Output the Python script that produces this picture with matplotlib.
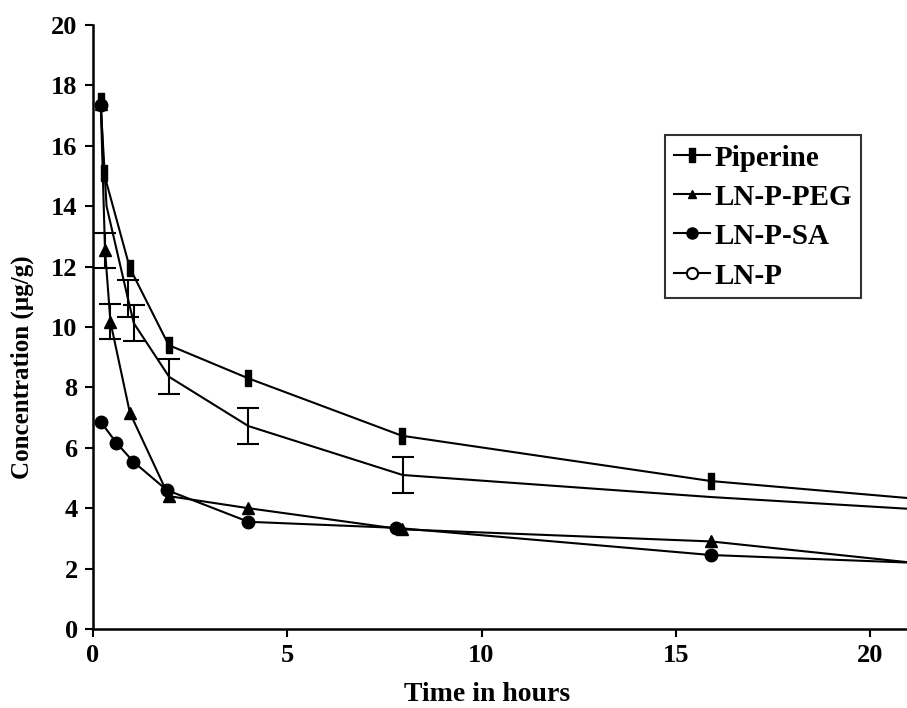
import matplotlib
matplotlib.use("Agg")
import matplotlib.pyplot as plt
from matplotlib.lines import Line2D
import numpy as np

plt.rcParams['font.family'] = ['Liberation Serif', 'DejaVu Serif']
plt.rcParams['font.weight'] = 'bold'

# Piperine (free drug)
pip_t = [0.2, 0.28, 0.95, 1.95, 4.0, 7.95, 15.9, 24]
pip_c = [17.5, 15.1, 11.95, 9.4, 8.3, 6.4, 4.9, 4.0]

# LN-P-PEG
peg_t = [0.2, 0.31, 0.45, 0.95, 1.95, 4.0, 7.95, 15.9, 24]
peg_c = [17.4, 12.55, 10.17, 7.16, 4.4, 4.0, 3.3, 2.9, 1.8]
peg_err = [0, 0.58, 0.58, 0, 0, 0, 0, 0, 0]

# LN-P-SA
sa_t = [0.2, 0.6, 1.04, 1.9, 4.0, 7.8, 15.9, 24]
sa_c = [6.86, 6.17, 5.54, 4.6, 3.55, 3.35, 2.45, 2.05]

# LN-P
lnp_t = [0.2, 0.35, 0.9, 1.05, 1.96, 4.0, 7.97, 15.9, 24]
lnp_c = [17.35, 14.0, 10.94, 10.13, 8.35, 6.72, 5.1, 4.37, 3.75]
lnp_err = [0, 0, 0.61, 0.6, 0.58, 0.6, 0.58, 0, 0]

rect = [(-0.45, -1), (0.45, -1), (0.45, 1), (-0.45, 1), (-0.45, -1)]

fig = plt.figure(figsize=(9.07, 7.08), dpi=100)
ax = fig.add_axes([0.1025, 0.1116, 0.8975, 0.853])

lw = 1.5


def err_bars(t, c, e):
    t, c, e = np.array(t), np.array(c), np.array(e)
    m = e > 0
    ax.errorbar(t[m], c[m], yerr=e[m], fmt='none', ecolor='black',
                elinewidth=lw, capsize=8, capthick=lw)


ax.plot(lnp_t, lnp_c, color='black', lw=lw, marker='o', ms=9, markevery=[0])
err_bars(lnp_t, lnp_c, lnp_err)
ax.plot(peg_t, peg_c, color='black', lw=lw, marker='^', ms=8)
err_bars(peg_t, peg_c, peg_err)
ax.plot(pip_t, pip_c, color='black', lw=lw, marker=rect, ms=11)
ax.plot(sa_t, sa_c, color='black', lw=lw, marker='o', ms=9)

ax.set_xlim(0, 20.95)
ax.set_ylim(0, 20)
ax.set_xticks([0, 5, 10, 15, 20])
ax.set_yticks(range(0, 21, 2))
ax.tick_params(labelsize=19, width=1.5, length=6, direction='out', pad=5)
ax.spines['top'].set_visible(False)
ax.spines['right'].set_visible(False)
ax.spines['left'].set_linewidth(1.8)
ax.spines['bottom'].set_linewidth(1.8)
for lab in ax.get_xticklabels() + ax.get_yticklabels():
    lab.set_fontweight('bold')

ax.set_xlabel('Time in hours', fontsize=20, fontweight='bold')
ax.set_ylabel('Concentration (µg/g)', fontsize=18, fontweight='bold')
ax.xaxis.set_label_coords(0.484, -0.088, transform=ax.transAxes)
ax.yaxis.set_label_coords(-0.073, 0.434, transform=ax.transAxes)

handles = [
    Line2D([], [], color='black', lw=lw, marker=rect, ms=10),
    Line2D([], [], color='black', lw=lw, marker='^', ms=6),
    Line2D([], [], color='black', lw=lw, marker='o', ms=8),
    Line2D([], [], color='black', lw=lw, marker='o', ms=8, mfc='white', mew=1.5),
]
labels = ['Piperine', 'LN-P-PEG', 'LN-P-SA', 'LN-P']
leg = ax.legend(handles, labels, loc='upper left', bbox_to_anchor=(0.703, 0.818),
                frameon=True, fancybox=False, edgecolor='black',
                handlelength=1.25, handletextpad=0.15, borderpad=0.3,
                labelspacing=0.38, borderaxespad=0, handleheight=0.9,
                prop={'weight': 'bold', 'size': 21})
leg.get_frame().set_linewidth(1.5)

fig.savefig('out.png', dpi=100)
